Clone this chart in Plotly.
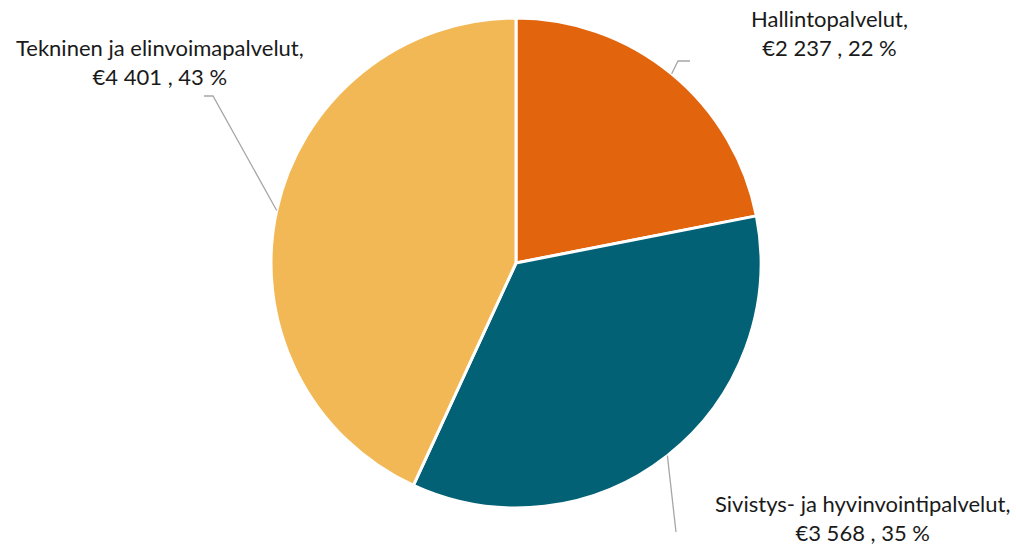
import math
import plotly.graph_objects as go

labels = ["Hallintopalvelut", "Sivistys- ja hyvinvointipalvelut", "Tekninen ja elinvoimapalvelut"]
values = [2237, 3568, 4401]
colors = ["#E2650E", "#036176", "#F2B856"]

W, H = 1016, 549
cx, cy, R = 516, 263, 245

# label anchor (pixel) positions and leader elbow points
label_pos = [(829, 33), (862, 518), (160, 62)]
elbows = [[(678, 61), (690, 61)], [(676, 532)], [(213, 96), (204, 96)]]

def px(x):
    return x / W

def py(y):
    return 1 - y / H

fig = go.Figure(go.Pie(
    labels=labels, values=values, sort=False, direction="clockwise", rotation=0,
    marker=dict(colors=colors, line=dict(color="white", width=3)),
    textinfo="none", hoverinfo="label+value+percent", showlegend=False,
    domain=dict(x=[px(cx - R), px(cx + R)], y=[py(cy + R), py(cy - R)]),
))

total = sum(values)
cum = 0
shapes, annotations = [], []
for i, v in enumerate(values):
    mid = (cum + v / 2) / total * 2 * math.pi
    cum += v
    sx = cx + R * math.sin(mid)
    sy = cy - R * math.cos(mid)
    pts = [(sx, sy)] + elbows[i]
    path = "M " + " L ".join(f"{px(x):.5f},{py(y):.5f}" for x, y in pts)
    shapes.append(dict(type="path", xref="paper", yref="paper", path=path,
                       line=dict(color="#A6A6A6", width=1.3)))
    pct = round(v / total * 100)
    val = f"{v:,}".replace(",", " ")
    annotations.append(dict(
        x=px(label_pos[i][0]), y=py(label_pos[i][1]), xref="paper", yref="paper",
        text=f"{labels[i]},<br>€{val} , {pct} %", showarrow=False,
        xanchor="center", yanchor="middle", align="center",
        font=dict(family="Lato, Carlito, sans-serif", size=22, color="#1A1A1A"),
    ))

fig.update_layout(
    width=W, height=H, margin=dict(l=0, r=0, t=0, b=0),
    paper_bgcolor="white", plot_bgcolor="white",
    shapes=shapes, annotations=annotations,
)
fig.write_html("out.html", config={"displayModeBar": False},
               post_script="document.body.style.margin='0';")
